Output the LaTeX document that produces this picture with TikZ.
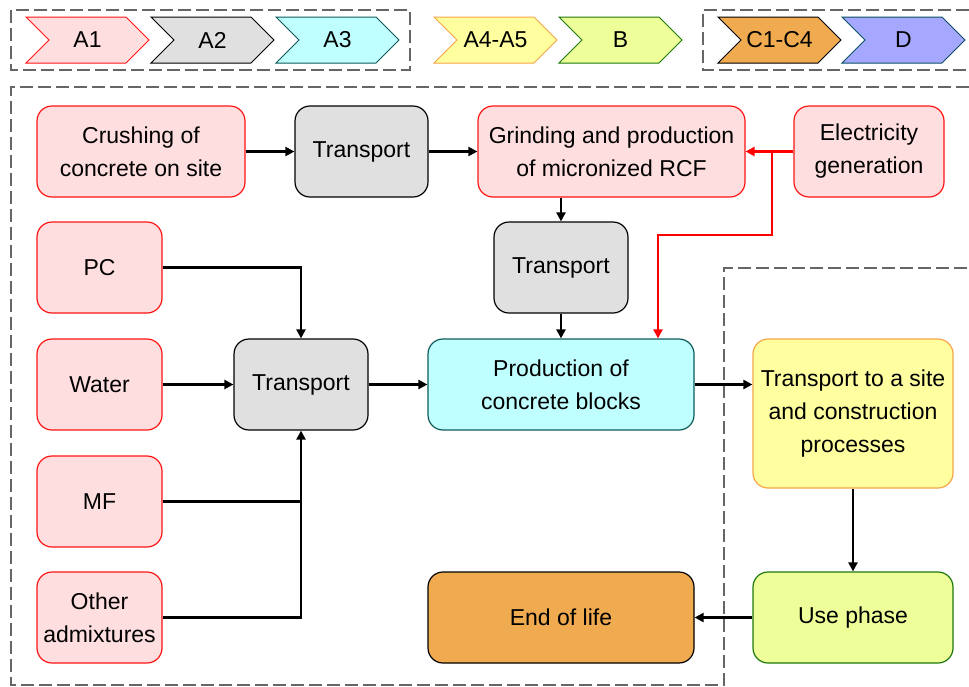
\documentclass[tikz,border=0pt]{standalone}
\usepackage{fontspec}
\setmainfont{Liberation Sans}
\usetikzlibrary{arrows.meta,calc}
\definecolor{pinkfill}{RGB}{255,222,223}
\definecolor{pinkdraw}{RGB}{255,20,20}
\definecolor{grayfill}{RGB}{224,224,224}
\definecolor{cyanfill}{RGB}{192,255,255}
\definecolor{cyandraw}{RGB}{14,90,90}
\definecolor{yelfill}{RGB}{255,255,160}
\definecolor{yeldraw}{RGB}{245,165,70}
\definecolor{grnfill}{RGB}{238,255,153}
\definecolor{grndraw}{RGB}{30,120,10}
\definecolor{orgfill}{RGB}{240,170,80}
\definecolor{lavfill}{RGB}{166,168,255}
\definecolor{lavdraw}{RGB}{10,80,100}
\definecolor{dashgray}{RGB}{102,102,102}
\newcommand\lcachev[5]{%
  \draw[chevline,fill=#3,draw=#4] (#1,17) -- ++(100,0) -- ++(23,23) -- ++(-23,23) -- ++(-100,0) -- ++(23,-23) -- cycle;
  \node[txt] (#5) at (#1+61.5,40) {#2};}
\begin{document}
\begin{tikzpicture}[x=1pt,y=-1pt,
  txt/.style={font=\fontsize{23}{33}\selectfont, inner sep=0pt, align=center},
  chevline/.style={line width=1pt, line join=miter},
  box/.style={txt, rounded corners=15pt, line width=1.2pt, minimum width=#1},
  pinkbox/.style={box=#1, fill=pinkfill, draw=pinkdraw},
  graybox/.style={box=#1, fill=grayfill, draw=black},
  conn/.style={line width=2.2pt, -{Triangle[length=9pt,width=9pt]}},
  plain/.style={line width=2.2pt},
  redconn/.style={conn, draw=red, color=red},
  dashbox/.style={draw=dashgray, line width=2.2pt, dash pattern=on 13pt off 5pt}]
\useasboundingbox (0,0) rectangle (969,686);
% legend
\draw[dashbox] (11,10) rectangle (410,70);
\draw[dashbox] (969,10) -- (703,10) -- (703,70) -- (969,70);
\lcachev{26}{A1}{pinkfill}{pinkdraw}{la1}
\lcachev{151}{A2}{grayfill}{black}{la2}
\lcachev{276}{A3}{cyanfill}{cyandraw}{la3}
\lcachev{434}{A4-A5}{yelfill}{yeldraw}{la4}
\lcachev{559}{B}{grnfill}{grndraw}{lb}
\lcachev{718}{C1-C4}{orgfill}{black}{lc}
\lcachev{842}{D}{lavfill}{lavdraw}{ld}
% frames
\draw[dashbox] (969,87) -- (11,87) -- (11,685) -- (724,685) -- (724,268) -- (969,268);
% nodes
\node[pinkbox=208pt, minimum height=91pt] (crush) at (141,151.5) {Crushing of\\concrete on site};
\node[graybox=133pt, minimum height=91pt] (t1) at (361.5,151.5) {Transport};
\node[pinkbox=267pt, minimum height=91pt] (grind) at (611.5,151.5) {Grinding and production\\of micronized RCF};
\node[pinkbox=150pt, minimum height=91pt] (elec) at (869,151.5) {Electricity\\generation};
\node[pinkbox=125pt, minimum height=91pt] (pc) at (99.5,267.5) {PC};
\node[graybox=134pt, minimum height=91pt] (t2) at (561,267.5) {Transport};
\node[pinkbox=125pt, minimum height=91pt] (water) at (99.5,384.5) {Water};
\node[graybox=134pt, minimum height=91pt] (t3) at (301,384.5) {Transport};
\node[box=266pt, minimum height=91pt, fill=cyanfill, draw=cyandraw] (prod) at (561,384.5) {Production of\\concrete blocks};
\node[box=200pt, minimum height=149pt, fill=yelfill, draw=yeldraw] (site) at (853,413.5) {Transport to a site\\and construction\\processes};
\node[pinkbox=125pt, minimum height=91pt] (mf) at (99.5,501.5) {MF};
\node[pinkbox=125pt, minimum height=91pt] (oa) at (99.5,617.5) {Other\\admixtures};
\node[box=266pt, minimum height=91pt, fill=orgfill, draw=black] (eol) at (561,617.5) {End of life};
\node[box=200pt, minimum height=91pt, fill=grnfill, draw=grndraw] (use) at (853,617.5) {Use phase};
% connectors
\draw[conn] (crush) -- (t1);
\draw[conn] (t1) -- (grind);
\draw[redconn] (elec) -- (grind);
\coordinate (rsplit) at (772,151.5);
\draw[redconn] (rsplit) -- ++(0,83.5) -| ([xshift=97pt]prod.north);
\draw[conn] (grind.south -| t2.north) -- (t2);
\draw[conn] (t2) -- (prod);
\draw[conn] (pc.east) -| (t3.north);
\draw[conn] (water) -- (t3);
\draw[plain] (mf.east) -- (mf.east -| t3.south);
\draw[conn] (oa.east) -| (t3.south);
\draw[conn] (t3) -- (prod);
\draw[conn] (prod.east) -- (prod.east -| site.west);
\draw[conn] (site) -- (use);
\draw[conn] (use) -- (eol);
\end{tikzpicture}
\end{document}
